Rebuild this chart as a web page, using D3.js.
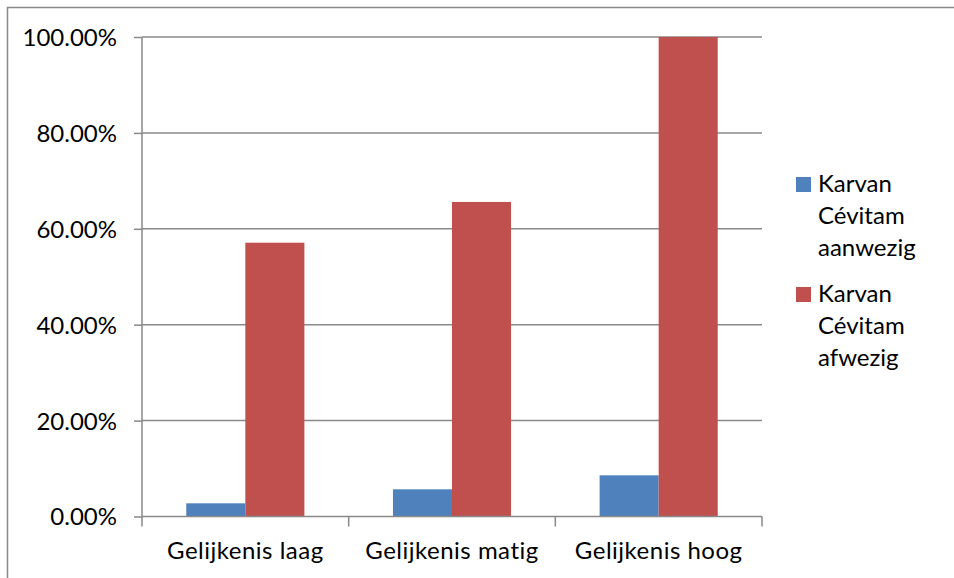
<!DOCTYPE html>
<html><head><meta charset="utf-8">
<script src="https://cdn.jsdelivr.net/npm/d3@7"></script>
<style>html,body{margin:0;padding:0;background:#fff;}svg{display:block;}</style>
</head><body>
<svg id="c" width="954" height="578"></svg>
<script>
const categories = ["Gelijkenis laag", "Gelijkenis matig", "Gelijkenis hoog"];
const seriesNames = ["Karvan Cévitam aanwezig", "Karvan Cévitam afwezig"];
const aanwezig = [0.0275, 0.0567, 0.0859];
const afwezig = [0.571, 0.656, 1.0];
const yTicks = [0, 0.2, 0.4, 0.6, 0.8, 1.0];
const legendLines = [["Karvan", "Cévitam", "aanwezig"], ["Karvan", "Cévitam", "afwezig"]];
const colors = ["#4F81BD", "#C0504D"];

const font = "Lato, 'Open Sans', sans-serif";
const fs = 24;
const svg = d3.select("#c");
const pLeft = 142, pRight = 762, pTop = 37, pBottom = 516.5;

// outer frame (only top/left visible)
svg.append("rect").attr("x", 7.5).attr("y", 7.5).attr("width", 1000).attr("height", 1000)
  .attr("fill", "none").attr("stroke", "#898989").attr("stroke-width", 1.5);

const x0 = d3.scaleBand().domain(categories).range([pLeft, pRight]);
const x1 = d3.scaleBand().domain([0, 1]).range([0, x0.bandwidth()]).paddingOuter(0.75).paddingInner(0);
const y = d3.scaleLinear().domain([0, 1]).range([pBottom, pTop]);

// gridlines
svg.append("g").selectAll("line").data(yTicks.slice(1)).join("line")
  .attr("x1", pLeft).attr("x2", pRight)
  .attr("y1", d => y(d)).attr("y2", d => y(d))
  .attr("stroke", "#898989").attr("stroke-width", 1.5);

// bars
const series = [aanwezig, afwezig];
const g = svg.append("g");
categories.forEach((c, i) => {
  series.forEach((s, j) => {
    g.append("rect")
      .attr("x", x0(c) + x1(j)).attr("width", x1.bandwidth())
      .attr("y", y(s[i])).attr("height", y(0) - y(s[i]))
      .attr("fill", colors[j]);
  });
});

// y axis
const yAxis = d3.axisLeft(y).tickValues(yTicks).tickFormat(d3.format(".2%")).tickSize(8).tickPadding(17);
const ya = svg.append("g").attr("transform", `translate(${pLeft},0)`).call(yAxis);
ya.select(".domain").attr("stroke", "#898989").attr("stroke-width", 1.5).attr("d", `M0,${pTop}V${pBottom}`);
ya.selectAll(".tick line").attr("stroke", "#898989").attr("stroke-width", 1.5);
ya.selectAll(".tick text").attr("font-family", font).attr("font-size", fs).attr("fill", "#000").attr("dy", "0.35em");

// x axis
const xa = svg.append("g").attr("transform", `translate(0,${pBottom})`)
  .call(d3.axisBottom(x0).tickSize(0).tickPadding(25));
xa.select(".domain").attr("stroke", "#898989").attr("stroke-width", 1.5).attr("d", `M${pLeft},0H${pRight}`);
xa.selectAll(".tick text").attr("font-family", font).attr("font-size", fs).attr("fill", "#000")
  .attr("letter-spacing", "0.5px");
const bounds = [pLeft].concat(categories.map(c => x0(c) + x0.bandwidth()));
xa.append("g").selectAll("line").data(bounds).join("line")
  .attr("x1", d => d).attr("x2", d => d).attr("y1", 0).attr("y2", 10)
  .attr("stroke", "#898989").attr("stroke-width", 1.5);

// legend
const lg = svg.append("g");
seriesNames.forEach((n, j) => {
  const oy = 177 + j * 110;
  lg.append("rect").attr("x", 796).attr("y", oy).attr("width", 15).attr("height", 15).attr("fill", colors[j]);
  legendLines[j].forEach((t, k) => {
    lg.append("text").attr("x", 818).attr("y", oy + 15 + k * 32)
      .attr("font-family", font).attr("font-size", fs).attr("fill", "#000").text(t);
  });
});
</script>
</body></html>
